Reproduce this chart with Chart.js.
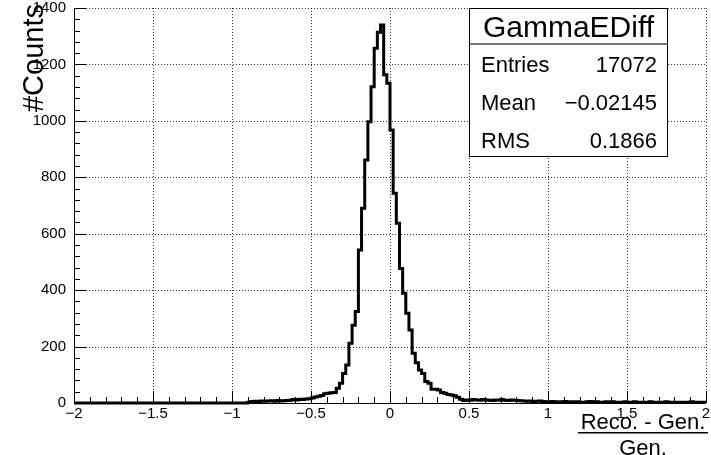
<!DOCTYPE html>
<html><head><meta charset="utf-8">
<script src="https://cdn.jsdelivr.net/npm/chart.js@4/dist/chart.umd.min.js"></script>
<style>html,body{margin:0;padding:0;background:#fff;}canvas{display:block;}</style>
</head><body>
<canvas id="c" width="711" height="455"></canvas>
<script>
// ---- data ----
const histName = 'GammaEDiff';
const xMin = -2, xMax = 2, binWidth = 0.02;   // 200 bins
const counts = [
  // -2.00 .. -0.90 (56 bins, empty)
  0,0,0,0,0,0,0,0,0,0, 0,0,0,0,0,0,0,0,0,0, 0,0,0,0,0,0,0,0,0,0,
  0,0,0,0,0,0,0,0,0,0, 0,0,0,0,0,0,0,0,0,0, 0,0,0,0,0,0,
  // -0.88 ..
  3,5,6,4,7,6,
  7,8,6,9,7,8,9,
  10,12,11,13,12,14,
  15,18,21,24,27,33,35,36,37,
  // -0.32 .. 0.48
  52,70,105,135,212,276,324,542,690,861,997,1121,1257,1314,1340,1163,1133,968,743,637,
  477,389,318,259,176,143,117,105,76,70,49,49,46,37,35,30,28,26,20,13,9,
  // 0.50 .. 0.98
  11,10,12,11,10,12,11,10,9,11,10,12,10,9,11,10,9,8,
  7,6,7,5,6,7,5,
  // 1.00 .. 1.98
  4,3,5,4,3,4,5,3,4,3, 4,3,3,4,5,3,4,3,2,4,
  3,4,3,3,2,4,3,3,4,2, 3,3,2,4,3,2,3,3,4,2,
  3,2,3,3,2,3,4,2,3,3
];
const xTicks = [-2,-1.5,-1,-0.5,0,0.5,1,1.5,2];
const yTicks = [0,200,400,600,800,1000,1200,1400];
const statLabels = ['Entries','Mean','RMS'];
const statValues = ['17072','\u22120.02145','0.1866'];
const yTitle = '#Counts';
const xTitleNum = 'Reco. - Gen.';
const xTitleDen = 'Gen.';

const FONT = '"Liberation Sans", Arial, Helvetica, sans-serif';
const fmt = v => (v < 0 ? '\u2212' + Math.abs(v) : String(v));

const points = counts.map((c, i) => ({x: xMin + i * binWidth, y: c}));
points.push({x: xMax, y: counts[counts.length - 1]});

const rootDecor = {
  id: 'rootDecor',
  beforeDatasetsDraw(chart) {
    const {ctx, chartArea: a, scales: {x, y}} = chart;
    ctx.save();
    ctx.strokeStyle = 'rgba(0,0,0,0.8)';
    ctx.lineWidth = 1;
    ctx.setLineDash([1, 2]);
    xTicks.forEach(v => {
      const px = Math.round(x.getPixelForValue(v)) + 0.5;
      ctx.beginPath(); ctx.moveTo(px, a.top); ctx.lineTo(px, a.bottom); ctx.stroke();
    });
    yTicks.forEach(v => {
      const py = Math.round(y.getPixelForValue(v)) + 0.5;
      ctx.beginPath(); ctx.moveTo(a.left, py); ctx.lineTo(a.right, py); ctx.stroke();
    });
    ctx.restore();
  },
  afterDatasetsDraw(chart) {
    const {ctx, chartArea: a, scales: {x, y}} = chart;
    ctx.save();
    ctx.strokeStyle = '#000';
    ctx.lineWidth = 1;
    ctx.setLineDash([]);
    ctx.beginPath();
    ctx.moveTo(a.left + 0.5, a.top); ctx.lineTo(a.left + 0.5, a.bottom + 0.5);
    ctx.lineTo(a.right, a.bottom + 0.5);
    ctx.stroke();
    for (let k = 0; k <= 40; k++) {
      const v = xMin + k * 0.1;
      const px = Math.round(x.getPixelForValue(v)) + 0.5;
      const len = (k % 5 === 0) ? 12 : 6;
      ctx.beginPath(); ctx.moveTo(px, a.bottom); ctx.lineTo(px, a.bottom - len); ctx.stroke();
    }
    for (let k = 0; k <= 35; k++) {
      const v = k * 40;
      const py = Math.round(y.getPixelForValue(v)) + 0.5;
      const len = (k % 5 === 0) ? 12 : 6;
      ctx.beginPath(); ctx.moveTo(a.left, py); ctx.lineTo(a.left + len, py); ctx.stroke();
    }
    ctx.restore();
  },
  afterDraw(chart) {
    const {ctx} = chart;
    ctx.save();
    ctx.fillStyle = '#000';
    ctx.save();
    ctx.translate(43, 4);
    ctx.rotate(-Math.PI / 2);
    ctx.font = '29px ' + FONT;
    ctx.textAlign = 'right';
    ctx.textBaseline = 'alphabetic';
    ctx.fillText(yTitle, 0, 0);
    ctx.restore();
    ctx.font = '22px ' + FONT;
    ctx.textAlign = 'center';
    ctx.textBaseline = 'alphabetic';
    ctx.fillText(xTitleNum, 643, 429);
    ctx.fillRect(578, 432, 130, 1.5);
    ctx.fillText(xTitleDen, 643, 455);
    const bx = 469.5, by = 8.5, bw = 198, bh = 148;
    ctx.fillStyle = '#fff';
    ctx.fillRect(bx, by, bw, bh);
    ctx.strokeStyle = '#000';
    ctx.lineWidth = 1;
    ctx.strokeRect(bx, by, bw, bh);
    ctx.fillStyle = '#777';
    ctx.fillRect(bx, 43, bw, 2);
    ctx.fillStyle = '#000';
    ctx.font = '30px ' + FONT;
    ctx.textAlign = 'center';
    ctx.fillText(histName, bx + bw / 2, 37);
    ctx.font = '22px ' + FONT;
    statLabels.forEach((lab, i) => {
      const base = 72 + i * 38;
      ctx.textAlign = 'left';
      ctx.fillText(lab, 481, base);
      ctx.textAlign = 'right';
      ctx.fillText(statValues[i], 657, base);
    });
    ctx.restore();
  }
};

new Chart(document.getElementById('c'), {
  type: 'line',
  data: {
    datasets: [{
      data: points,
      stepped: 'after',
      borderColor: '#000',
      borderWidth: 3,
      pointRadius: 0,
      fill: false,
      clip: 6,
      borderJoinStyle: 'miter'
    }]
  },
  options: {
    responsive: false,
    devicePixelRatio: 1,
    animation: false,
    events: [],
    layout: {padding: {top: 8, right: 5, left: 0, bottom: 0}},
    plugins: {legend: {display: false}, tooltip: {enabled: false}, title: {display: false}},
    scales: {
      x: {
        type: 'linear', min: xMin, max: xMax,
        afterBuildTicks: s => { s.ticks = xTicks.map(v => ({value: v})); },
        afterFit: s => { s.height = 52; s.paddingLeft = 0; s.paddingRight = 0; },
        grid: {display: false, drawTicks: false},
        border: {display: false},
        ticks: {callback: v => fmt(v), color: '#000', font: {family: FONT, size: 15}, padding: 2, maxRotation: 0, autoSkip: false}
      },
      y: {
        type: 'linear', min: 0, max: 1400,
        afterBuildTicks: s => { s.ticks = yTicks.map(v => ({value: v})); },
        afterFit: s => { s.width = 74; s.paddingTop = 0; s.paddingBottom = 0; },
        grid: {display: false, drawTicks: false},
        border: {display: false},
        ticks: {callback: v => String(v), color: '#000', font: {family: FONT, size: 15}, padding: 8}
      }
    }
  },
  plugins: [rootDecor]
});
</script>
</body></html>
